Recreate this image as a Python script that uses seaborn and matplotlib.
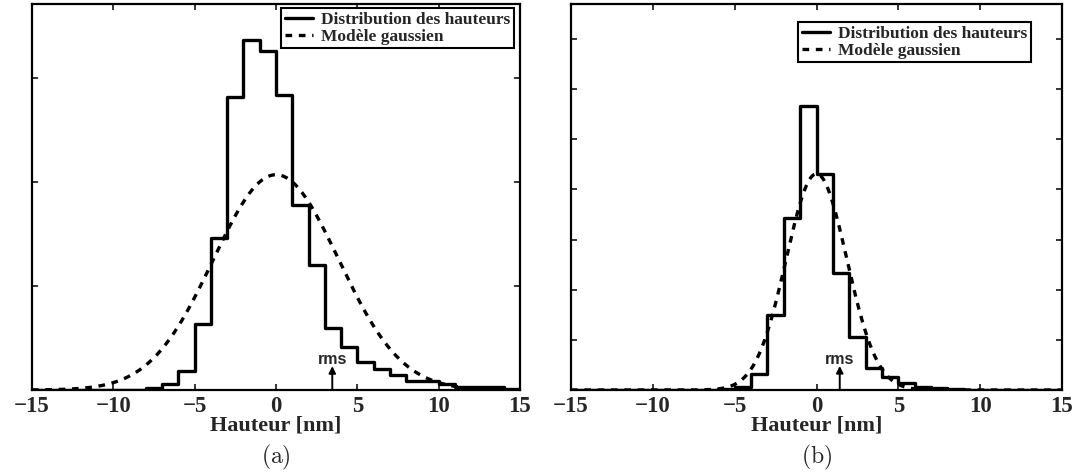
import numpy as np
import pandas as pd
import matplotlib
matplotlib.use("Agg")
import matplotlib.pyplot as plt
import seaborn as sns

# ---------------- data ----------------
bin_edges = np.arange(-15, 16, 1)          # 1 nm bins from -15 to 15
bin_left = bin_edges[:-1]

# panel (a): normalised height distribution, one value per bin (-15..14)
heights_a = [0.0, 0.0, 0.0, 0.0, 0.0, 0.0, 0.0,
             0.0011, 0.0031, 0.0092, 0.0318, 0.0732, 0.1410, 0.1684, 0.1632,
             0.1419, 0.0890, 0.0600, 0.0297, 0.0205, 0.0135, 0.0100, 0.0073,
             0.0044, 0.0044, 0.0031, 0.0015, 0.0015, 0.0015, 0.0007]
# panel (b)
heights_b = [0.0, 0.0, 0.0, 0.0, 0.0, 0.0, 0.0, 0.0, 0.0,
             0.0010, 0.0027, 0.0160, 0.0750, 0.1720, 0.2833,
             0.2153, 0.1167, 0.0533, 0.0220, 0.0133, 0.0067, 0.0033, 0.0017,
             0.0007, 0.0003, 0.0, 0.0, 0.0, 0.0, 0.0]

# Gaussian model parameters (mean, standard deviation) for each panel
gauss_mu = [0.0, 0.0]
gauss_sigma = [3.85, 1.85]
# rms marker position and arrow height
rms_x = [3.46, 1.42]
rms_arrow_h = [0.0115, 0.0240]
y_max = [0.1858, 0.385]
panel_labels = ["(a)", "(b)"]
legend_labels = ["Distribution des hauteurs", "Modèle gaussien"]
x_ticks = [-15, -10, -5, 0, 5, 10, 15]

# ---------------- style ----------------
sns.set_style("ticks")
plt.rcParams["font.family"] = ["Liberation Serif", "DejaVu Serif"]
plt.rcParams["mathtext.fontset"] = "cm"
plt.rcParams["axes.linewidth"] = 1.6

fig = plt.figure(figsize=(10.74, 4.76), dpi=100)
fig.patch.set_facecolor("white")

W, H = 1074, 476
axes_px = [(32, 4, 520, 390), (571, 4, 1062, 390)]
legend_anchor = [(0.9877, 0.9896), (0.9369, 0.953)]

for i in range(2):
    x0, y0, x1, y1 = axes_px[i]
    ax = fig.add_axes([x0 / W, (H - y1) / H, (x1 - x0) / W, (y1 - y0) / H])
    heights = heights_a if i == 0 else heights_b
    df = pd.DataFrame({"x": bin_left + 0.5, "w": heights})
    sns.histplot(data=df, x="x", weights="w", binwidth=1, binrange=(-15, 15),
                 element="step", fill=False, color="black", linewidth=2.4,
                 ax=ax)
    xs = np.linspace(-15, 15, 601)
    ys = np.exp(-0.5 * ((xs - gauss_mu[i]) / gauss_sigma[i]) ** 2) / (
        np.sqrt(2 * np.pi) * gauss_sigma[i])
    sns.lineplot(x=xs, y=ys, color="black", linewidth=2.4, ax=ax,
                 linestyle=(0, (2.0, 2.0)))

    ax.set_xlim(-15, 15)
    ax.set_ylim(0, y_max[i])
    ax.set_xticks(x_ticks)
    ax.set_yticks(np.arange(0.05, y_max[i], 0.05))
    ax.set_yticklabels([])
    ax.tick_params(axis="both", direction="in", length=4.5, width=1.3,
                   top=True, right=True, labelsize=16.5, pad=4)
    for lab in ax.get_xticklabels():
        lab.set_fontweight("bold")
    ax.set_ylabel("")
    ax.set_xlabel("Hauteur [nm]", fontsize=16, fontweight="bold", labelpad=-1)
    for s in ax.spines.values():
        s.set_visible(True)
        s.set_color("black")
        s.set_linewidth(1.6)

    # rms arrow and text
    ax.annotate("", xy=(rms_x[i], rms_arrow_h[i]), xytext=(rms_x[i], 0),
                arrowprops=dict(arrowstyle="-|>", color="black", lw=1.4,
                                mutation_scale=10, shrinkA=0, shrinkB=0))
    ax.annotate("rms", xy=(rms_x[i], rms_arrow_h[i]), xytext=(0, 1.5),
                textcoords="offset points", ha="center", va="baseline",
                fontsize=11.5, fontweight="bold",
                family=["Liberation Sans", "DejaVu Sans"])

    handles = [ax.lines[0], ax.lines[1]]
    leg = ax.legend(handles, legend_labels, loc="upper right",
                    bbox_to_anchor=legend_anchor[i], borderaxespad=0,
                    prop={"family": "Liberation Serif", "weight": "bold",
                          "size": 12.5},
                    frameon=True, fancybox=False, shadow=False,
                    handlelength=1.6, handletextpad=0.5, borderpad=0.2,
                    labelspacing=0.05)
    leg.get_frame().set_edgecolor("black")
    leg.get_frame().set_linewidth(1.5)
    leg.get_frame().set_alpha(1)

    fig.text((x0 + x1) / 2 / W, (H - 457) / H, r"$\mathrm{" + panel_labels[i] + "}$",
             ha="center", va="center", fontsize=17)

fig.savefig("out.png", dpi=100, facecolor="white")
